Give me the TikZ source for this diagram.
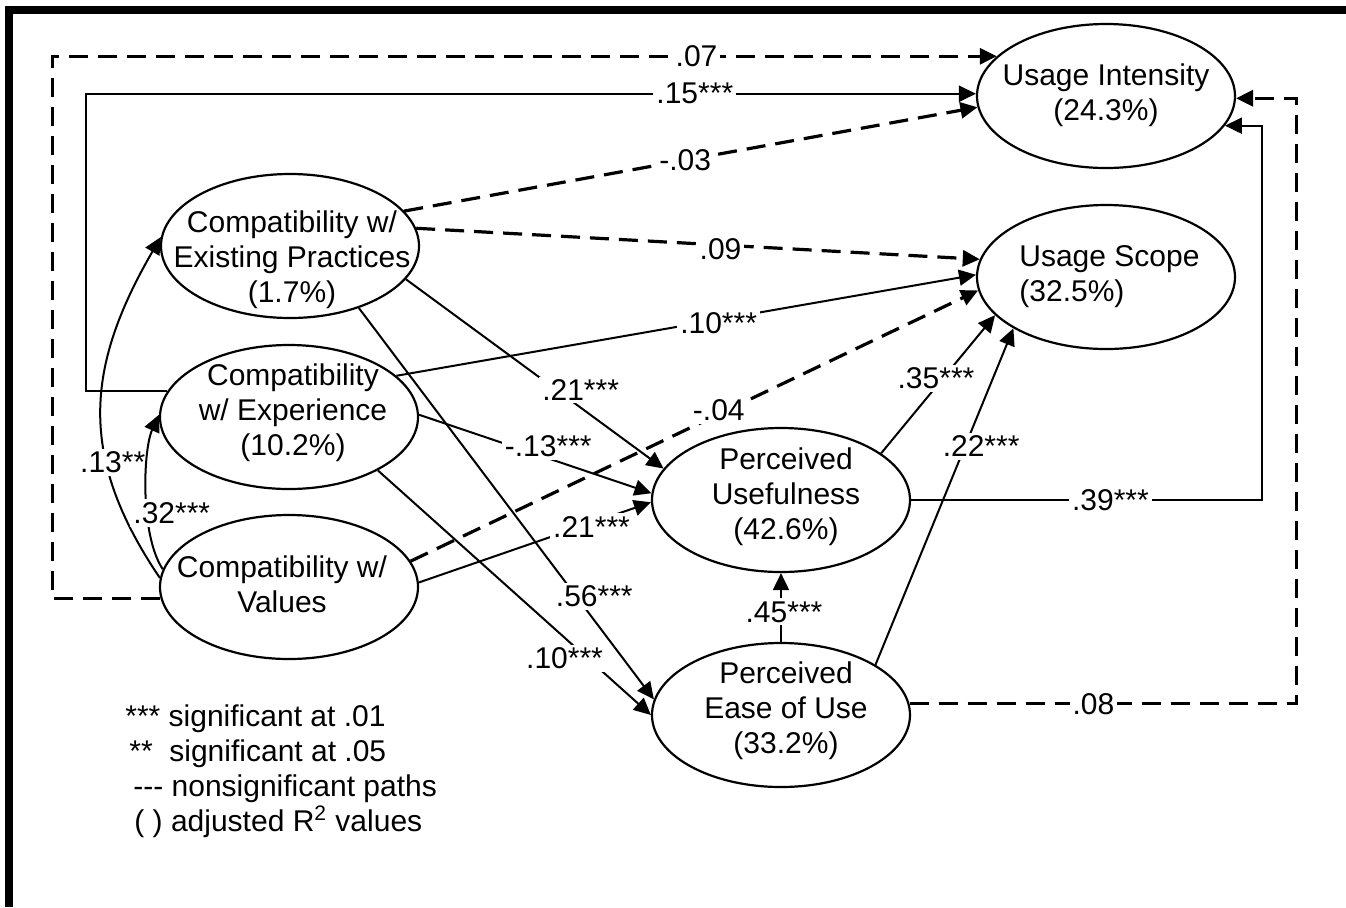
\documentclass[tikz,border=0pt]{standalone}
\usepackage{fontspec}
\setmainfont{Liberation Sans}
\usetikzlibrary{arrows.meta,shapes.geometric}
\begin{document}
\begin{tikzpicture}[x=0.5pt,y=-0.5pt,
  every node/.style={font=\fontsize{15}{17.5}\selectfont},
  ell/.style={draw, line width=1.1pt, ellipse, minimum width=129pt, minimum height=72pt, inner sep=0pt},
  etext/.style={align=center, inner sep=0pt},
  sig/.style={line width=1pt, -{Triangle[length=8.5pt,width=8pt]}},
  nsig/.style={line width=1.6pt, dash pattern=on 9.5pt off 5pt, -{Triangle[length=8.5pt,width=8pt]}},
  lab/.style={fill=white, inner sep=1.5pt},
  leg/.style={anchor=base west, inner sep=0pt}
]
\useasboundingbox (0,0) rectangle (1346,907);
% frame
\fill (5,6) rectangle (1346,14);
\fill (5,6) rectangle (13,907);

% constructs
\node[ell] (UI) at (1106,96) {};
\node[ell] (US) at (1106,277) {};
\node[ell] (EP) at (290,246) {};
\node[ell] (EX) at (289,417) {};
\node[ell] (VA) at (289,587) {};
\node[ell] (PU) at (781,500) {};
\node[ell] (PE) at (781,715) {};

\node[etext] (UIt) at (1106,95) {Usage Intensity\\(24.3\%)};
\node[etext, align=left, anchor=west] (USt) at (1019,277) {Usage Scope\\(32.5\%)};
\node[etext] (EPt) at (292,260) {Compatibility w/\\Existing Practices\\(1.7\%)};
\node[etext] (EXt) at (293,413) {Compatibility\\w/ Experience\\(10.2\%)};
\node[etext] (VAt) at (282,584) {Compatibility w/\\Values};
\node[etext] (PUt) at (786,497) {Perceived\\Usefulness\\(42.6\%)};
\node[etext] (PEt) at (786,711) {Perceived\\Ease of Use\\(33.2\%)};

% paths
\draw[nsig] (VA.185) -- ++(-108,0) |- (UI.160) node[lab,pos=0.841] {.07};
\draw[sig] (EX.168) -- ++(-81,0) |- (UI.179) node[lab,pos=0.842] {.15***};
\draw[nsig] (EP.17) -- (UI.185) node[lab,pos=0.49] {-.03};
\draw[nsig] (EP.8) -- (US.172) node[lab,pos=0.54,yshift=-2pt] {.09};
\draw[sig] (EX.21) -- (US.179) node[lab,pos=0.556,yshift=-2pt] {.10***};
\draw[nsig] (VA.12) -- (US.186) node[lab,pos=0.543,yshift=2pt] {-.04};
\draw[sig] (PU.25) -- (US.199) node[lab,pos=0.543,xshift=-3.5pt] {.35***};
\draw[sig] (PE.28) -- (US.209) node[lab,pos=0.65,xshift=8pt] {.22***};
\draw[sig] (PU.east) -- ++(351,0) node[lab,pos=0.568] {.39***} |- (UI.346);
\draw[nsig] (PE.5) -- ++(387,0) node[lab,pos=0.475] {.08} |- (UI.359);
\draw[sig] (PE.north) -- (PU.south) node[lab,pos=0.437,xshift=1.5pt] {.45***};
\draw[sig] (EP.344) -- (PU.165) node[lab,pos=0.585,xshift=12pt] {.21***};
\draw[sig] (EX.1) -- (PU.177) node[lab,pos=0.556,yshift=6pt] {-.13***};
\draw[sig] (VA.2) -- (PU.181) node[lab,pos=0.744,yshift=-2pt] {.21***};
\draw[sig] (EP.318) -- (PE.173) node[lab,pos=0.737,xshift=9pt] {.56***};
\draw[sig] (EX.329) -- (PE.180) node[lab,pos=0.768,xshift=-11.5pt] {.10***};
\draw[sig] (VA.176) .. controls (78,457) and (85,368) .. (EP.176)
  node[lab,pos=0.35,xshift=3.5pt,yshift=-1.5pt] {.13**};
\draw[sig] (VA.172) .. controls (140,535) and (143,450) .. (EX.179)
  node[lab,pos=0.35,xshift=12pt,yshift=3pt] {.32***};

% legend
\node[leg] (lg1) at (125,726) {*** significant at .01};
\node[leg] (lg2) at (129,761) {**\ \ significant at .05};
\node[leg] (lg3) at (133,796) {-{}-{}- nonsignificant paths};
\node[leg] (lg4) at (134,831) {( ) adjusted R\textsuperscript{2} values};
\end{tikzpicture}
\end{document}
